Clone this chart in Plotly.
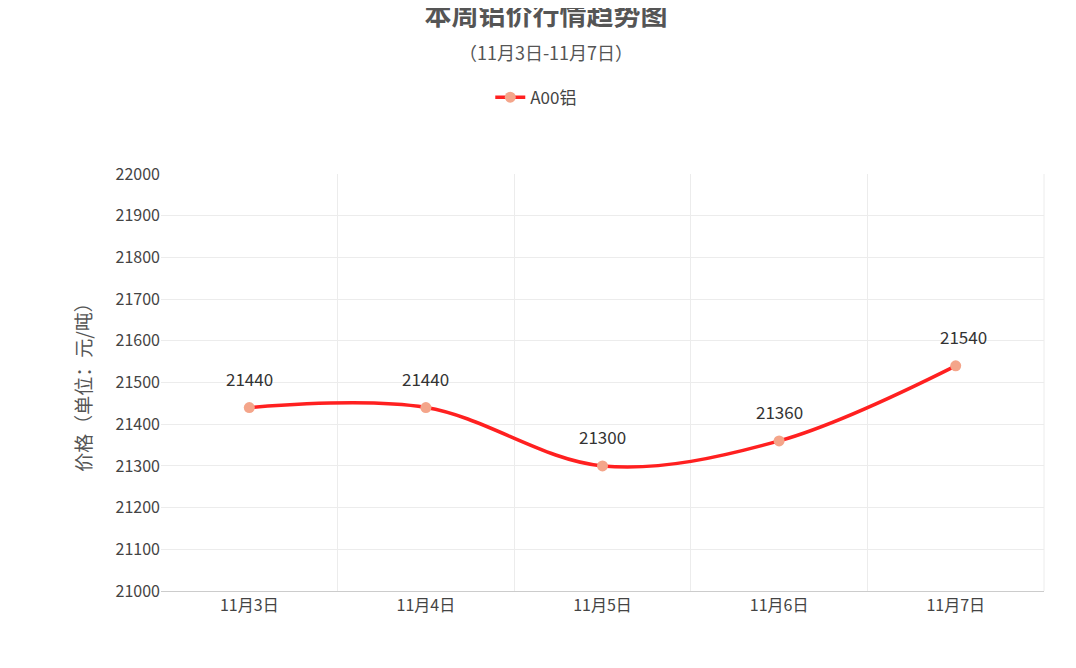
import plotly.graph_objects as go

categories = ["11月3日", "11月4日", "11月5日", "11月6日", "11月7日"]
prices = [21440, 21440, 21300, 21360, 21540]
series_name = "A00铝"

xs = list(range(len(categories)))
font = "Noto Sans CJK SC"

fig = go.Figure()
fig.add_trace(go.Scatter(
    x=xs, y=prices, name=series_name, mode="lines+markers",
    line=dict(color="#ff2020", width=3.5, shape="spline", smoothing=1.0),
    marker=dict(color="#f4a58a", size=11),
))
for x, v in zip(xs, prices):
    fig.add_annotation(x=x, y=v, text=str(v), showarrow=False, yshift=29,
                       xshift=8 if x == xs[-1] else 0,
                       font=dict(size=17, color="#333", family=font))
fig.update_layout(
    width=1076, height=668,
    paper_bgcolor="white", plot_bgcolor="white",
    margin=dict(l=153, r=40, t=166, b=85, autoexpand=False),
    font=dict(family=font, color="#444"),
    title=dict(
        text="<b>本周铝价行情趋势图</b><br><span style='font-size:18px;font-weight:normal'>（11月3日-11月7日）</span>",
        x=0.5, xanchor="center", y=0.975, yanchor="top",
        font=dict(size=27, color="#555", family=font),
    ),
    legend=dict(orientation="h", x=0.425, xanchor="center", y=1.14, yanchor="bottom",
                font=dict(size=17, color="#444")),
    showlegend=True,
    xaxis=dict(
        range=[-0.5, 4.5], tickvals=xs, ticktext=categories, showgrid=False,
        tickfont=dict(size=16, color="#444"), ticks="", automargin=False,
        showline=True, linecolor="#cccccc", linewidth=1,
        minor=dict(tickvals=[0.5, 1.5, 2.5, 3.5], showgrid=True, gridcolor="#ececec", gridwidth=1),
        zeroline=False,
    ),
    yaxis=dict(
        range=[21000, 22000], dtick=100, tickformat="d", gridcolor="#ececec",
        tickfont=dict(size=16, color="#444"), zeroline=False, automargin=False,
        title=dict(text="价格（单位：元/吨）", font=dict(size=19, color="#555"), standoff=18),
    ),
)
fig.add_shape(type="line", xref="paper", yref="paper", x0=1, x1=1, y0=0, y1=1,
              line=dict(color="#ececec", width=1))
fig.write_html("out.html")
